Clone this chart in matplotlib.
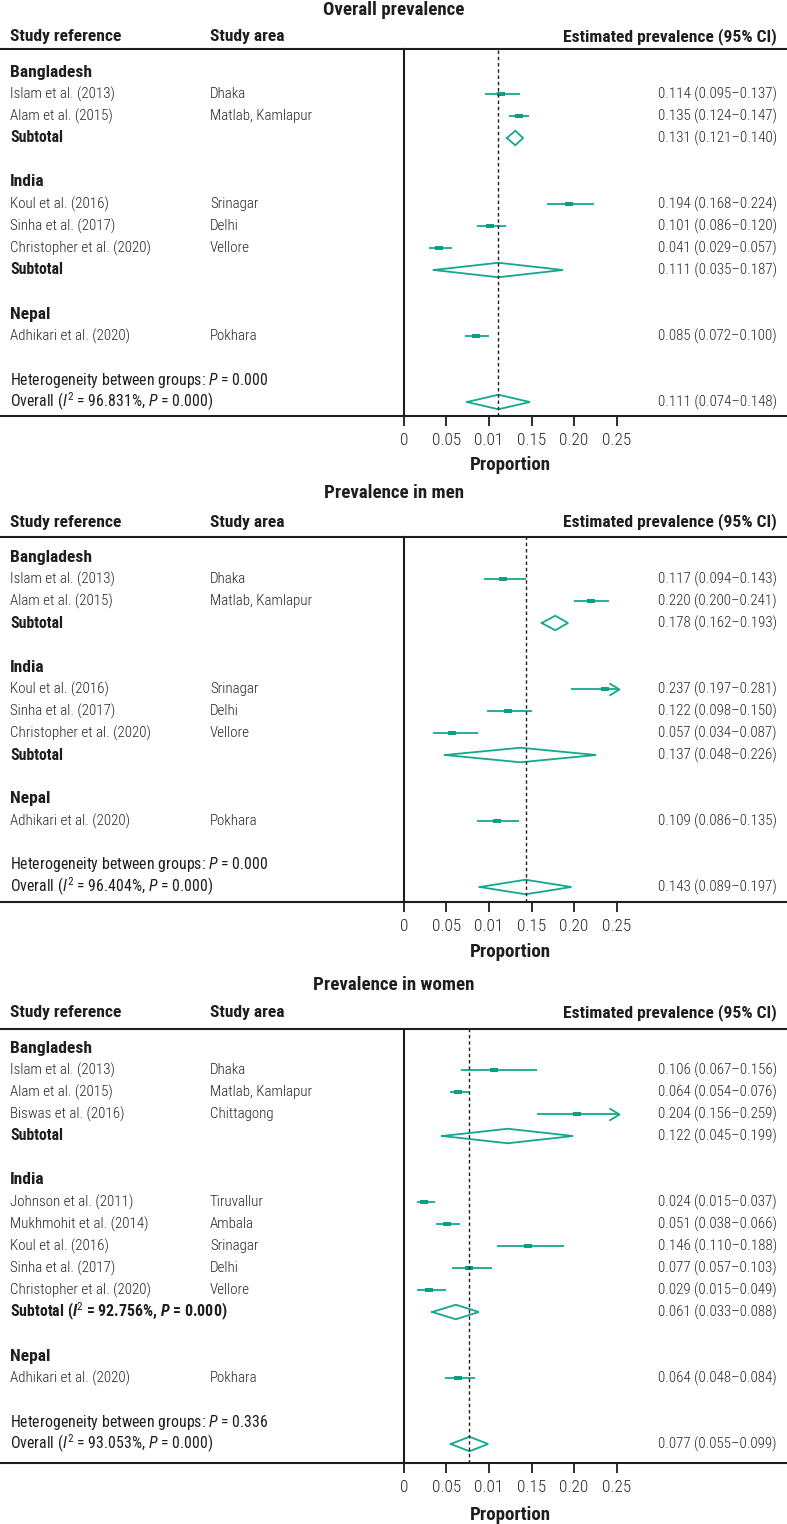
import numpy as np
import matplotlib
matplotlib.use("Agg")
import matplotlib.pyplot as plt
from matplotlib.path import Path
from matplotlib import font_manager


def have_font(name):
    try:
        font_manager.findfont(font_manager.FontProperties(family=name),
                              fallback_to_default=False)
        return True
    except ValueError:
        return False


# the original uses a condensed face; fall back to a normal one made smaller
FONT, SCALE = 'Liberation Sans', 0.82
for name in ['Roboto Condensed', 'Liberation Sans Narrow', 'Open Sans Condensed']:
    if have_font(name):
        FONT, SCALE = name, 1.0
        break

plt.rcParams['font.family'] = [FONT, 'DejaVu Sans']
plt.rcParams['mathtext.fontset'] = 'custom'
plt.rcParams['mathtext.rm'] = FONT
plt.rcParams['mathtext.it'] = FONT + ':italic'
plt.rcParams['mathtext.bf'] = FONT + ':bold'
plt.rcParams['mathtext.bfit'] = FONT + ':bold:italic'

# ---- data ----
countries = ['Bangladesh', 'India', 'Nepal']

# overall prevalence
overall_refs = ['Islam et al. (2013)', 'Alam et al. (2015)', 'Koul et al. (2016)',
                'Sinha et al. (2017)', 'Christopher et al. (2020)', 'Adhikari et al. (2020)']
overall_areas = ['Dhaka', 'Matlab, Kamlapur', 'Srinagar', 'Delhi', 'Vellore', 'Pokhara']
overall_country = ['Bangladesh', 'Bangladesh', 'India', 'India', 'India', 'Nepal']
overall_est = [0.114, 0.135, 0.194, 0.101, 0.041, 0.085]
overall_lo = [0.095, 0.124, 0.168, 0.086, 0.029, 0.072]
overall_hi = [0.137, 0.147, 0.224, 0.120, 0.057, 0.100]
overall_sub_est = [0.131, 0.111, None]
overall_sub_lo = [0.121, 0.035, None]
overall_sub_hi = [0.140, 0.187, None]
overall_sub_i2 = [None, None, None]
overall_het_p = '0.000'
overall_i2 = '96.831'
overall_pool = [0.111, 0.074, 0.148]

# men
men_refs = overall_refs
men_areas = overall_areas
men_country = overall_country
men_est = [0.117, 0.220, 0.237, 0.122, 0.057, 0.109]
men_lo = [0.094, 0.200, 0.197, 0.098, 0.034, 0.086]
men_hi = [0.143, 0.241, 0.281, 0.150, 0.087, 0.135]
men_sub_est = [0.178, 0.137, None]
men_sub_lo = [0.162, 0.048, None]
men_sub_hi = [0.193, 0.226, None]
men_sub_i2 = [None, None, None]
men_het_p = '0.000'
men_i2 = '96.404'
men_pool = [0.143, 0.089, 0.197]

# women
women_refs = ['Islam et al. (2013)', 'Alam et al. (2015)', 'Biswas et al. (2016)',
              'Johnson et al. (2011)', 'Mukhmohit et al. (2014)', 'Koul et al. (2016)',
              'Sinha et al. (2017)', 'Christopher et al. (2020)', 'Adhikari et al. (2020)']
women_areas = ['Dhaka', 'Matlab, Kamlapur', 'Chittagong', 'Tiruvallur', 'Ambala',
               'Srinagar', 'Delhi', 'Vellore', 'Pokhara']
women_country = ['Bangladesh'] * 3 + ['India'] * 5 + ['Nepal']
women_est = [0.106, 0.064, 0.204, 0.024, 0.051, 0.146, 0.077, 0.029, 0.064]
women_lo = [0.067, 0.054, 0.156, 0.015, 0.038, 0.110, 0.057, 0.015, 0.048]
women_hi = [0.156, 0.076, 0.259, 0.037, 0.066, 0.188, 0.103, 0.049, 0.084]
women_sub_est = [0.122, 0.061, None]
women_sub_lo = [0.045, 0.033, None]
women_sub_hi = [0.199, 0.088, None]
women_sub_i2 = [None, ('92.756', '0.000'), None]
women_het_p = '0.336'
women_i2 = '93.053'
women_pool = [0.077, 0.055, 0.099]

titles = ['Overall prevalence', 'Prevalence in men', 'Prevalence in women']
tick_vals = [0, 0.05, 0.10, 0.15, 0.20, 0.25]
tick_labels = ['0', '0.05', '0.01', '0.15', '0.20', '0.25']

# ---- layout (pixels) ----
W, H = 787, 1524
# title, header, header line, first row, bottom line, xlabel
layout = [(10, 37, 49, 72, 416, 465),
          (493, 522, 537, 557, 902, 952),
          (985, 1013, 1029, 1048, 1463, 1515)]
ROW = 22.0
X0_PX = 404
PX_PER_UNIT = 850
XMAX = 0.26
CLIP_X = 0.253

TEAL = '#13a88d'
TEAL_M = '#0c9f85'
DARK = '#1e1e1e'
GREY = '#262626'
FS = 11.4 * SCALE      # dark regular / bold rows
FSL = 10.8 * SCALE     # light study rows and values
FSB = 12.6 * SCALE
FST = 13.6 * SCALE
FSTICK = 12.4 * SCALE

box = Path([(-1, -0.68), (1, -0.68), (1, 0.68), (-1, 0.68), (-1, -0.68)],
           [Path.MOVETO, Path.LINETO, Path.LINETO, Path.LINETO, Path.CLOSEPOLY])
chevron = Path([(-1.4, 0.85), (0, 0), (-1.4, -0.85)],
               [Path.MOVETO, Path.LINETO, Path.LINETO])

panels = [
    (overall_refs, overall_areas, overall_country, overall_est, overall_lo, overall_hi,
     overall_sub_est, overall_sub_lo, overall_sub_hi, overall_sub_i2,
     overall_het_p, overall_i2, overall_pool),
    (men_refs, men_areas, men_country, men_est, men_lo, men_hi,
     men_sub_est, men_sub_lo, men_sub_hi, men_sub_i2, men_het_p, men_i2, men_pool),
    (women_refs, women_areas, women_country, women_est, women_lo, women_hi,
     women_sub_est, women_sub_lo, women_sub_hi, women_sub_i2,
     women_het_p, women_i2, women_pool),
]

fig = plt.figure(figsize=(W / 100, H / 100), dpi=100)


def fmt_ci(e, l, h):
    return f'{e:.3f} ({l:.3f}\u2013{h:.3f})'


def diamond(ax, y, l, e, h, hh=0.33):
    ax.plot([l, e, h, e, l], [y, y - hh, y, y + hh, y], color=TEAL, lw=1.3,
            solid_joinstyle='miter', clip_on=False)


def light(ax, x, y, s, ha='left'):
    ax.text(x, y, s, ha=ha, va='center', fontsize=FSL, fontweight='light', color=GREY)


for p, (refs, areas, ctry, est, lo, hi, s_est, s_lo, s_hi, s_i2, het_p, i2, pool) in enumerate(panels):
    t_y, h_y, line_y, y0, bot_y, xl_y = layout[p]
    top_row = (line_y - y0) / ROW
    bot_row = (bot_y - y0) / ROW
    pos_y = (H - bot_y) / H
    pos_h = (bot_y - line_y) / H

    tab = fig.add_axes([0, pos_y, 1, pos_h])
    tab.set_xlim(0, W)
    tab.set_ylim(bot_row, top_row)
    tab.set_xticks([])
    tab.set_yticks([])
    tab.patch.set_alpha(0)
    for s in ['left', 'right']:
        tab.spines[s].set_visible(False)
    for s in ['top', 'bottom']:
        tab.spines[s].set_linewidth(1.5)
        tab.spines[s].set_color(DARK)

    fx = fig.add_axes([X0_PX / W, pos_y, XMAX * PX_PER_UNIT / W, pos_h])
    fx.set_xlim(0, XMAX)
    fx.set_ylim(bot_row, top_row)
    fx.patch.set_alpha(0)
    for s in ['top', 'right', 'bottom']:
        fx.spines[s].set_visible(False)
    fx.spines['left'].set_linewidth(1.5)
    fx.spines['left'].set_color(DARK)
    fx.set_yticks([])
    fx.set_xticks(tick_vals)
    fx.set_xticklabels(tick_labels, fontweight='light')
    fx.tick_params(axis='x', direction='out', length=7.5, width=1.3, color=DARK,
                   pad=5, labelsize=FSTICK, labelcolor=GREY)

    # titles and headers
    r = lambda ypx: (ypx - y0) / ROW
    tab.text(W / 2, r(t_y), titles[p], ha='center', va='center', fontsize=FST,
             fontweight='bold', color=DARK, clip_on=False)
    tab.text(10, r(h_y), 'Study reference', ha='left', va='center', fontsize=FSB,
             fontweight='bold', color=DARK, clip_on=False)
    tab.text(210, r(h_y), 'Study area', ha='left', va='center', fontsize=FSB,
             fontweight='bold', color=DARK, clip_on=False)
    tab.text(777, r(h_y), 'Estimated prevalence (95% CI)', ha='right', va='center',
             fontsize=FSB, fontweight='bold', color=DARK, clip_on=False)
    fx.text(0.125, r(xl_y), 'Proportion', ha='center', va='center', fontsize=FST,
            fontweight='bold', color=DARK, clip_on=False)

    # rows
    row = 0
    for ci, c in enumerate(countries):
        tab.text(10, row, c, ha='left', va='center', fontsize=FSB, fontweight='bold',
                 color=DARK)
        row += 1
        idx = [i for i in range(len(refs)) if ctry[i] == c]
        for i in idx:
            light(tab, 10, row, refs[i])
            light(tab, 210, row, areas[i])
            light(tab, 777, row, fmt_ci(est[i], lo[i], hi[i]), ha='right')
            right = min(hi[i], CLIP_X)
            fx.plot([lo[i], right], [row, row], color=TEAL, lw=1.3, solid_capstyle='butt')
            if hi[i] > CLIP_X:
                fx.plot([CLIP_X], [row], marker=chevron, ms=14.5, mfc='none',
                        mec=TEAL, mew=1.3, clip_on=False)
            fx.plot([est[i]], [row], marker=box, ms=5.2, color=TEAL_M, mew=0)
            row += 1
        if s_est[ci] is not None:
            if s_i2[ci] is None:
                lab = 'Subtotal'
            else:
                lab = ('Subtotal ($\\mathbfit{I}^{2}$ = ' + s_i2[ci][0] +
                       '%, $\\mathbfit{P}$ = ' + s_i2[ci][1] + ')')
            tab.text(10, row, lab, ha='left', va='center', fontsize=FS,
                     fontweight='bold', color=DARK)
            light(tab, 777, row, fmt_ci(s_est[ci], s_lo[ci], s_hi[ci]), ha='right')
            diamond(fx, row, s_lo[ci], s_est[ci], s_hi[ci])
            row += 1
        row += 1

    tab.text(10, row, 'Heterogeneity between groups: $P$ = ' + het_p, ha='left',
             va='center', fontsize=FS, color=DARK)
    row += 1
    tab.text(10, row, 'Overall ($I^{2}$ = ' + i2 + '%, $P$ = 0.000)', ha='left',
             va='center', fontsize=FS, color=DARK)
    light(tab, 777, row, fmt_ci(*pool), ha='right')
    diamond(fx, row, pool[1], pool[0], pool[2])

    fx.axvline(pool[0], color=DARK, lw=1.0, ls=(0, (2.5, 2)))

fig.savefig('out.png', dpi=100)
